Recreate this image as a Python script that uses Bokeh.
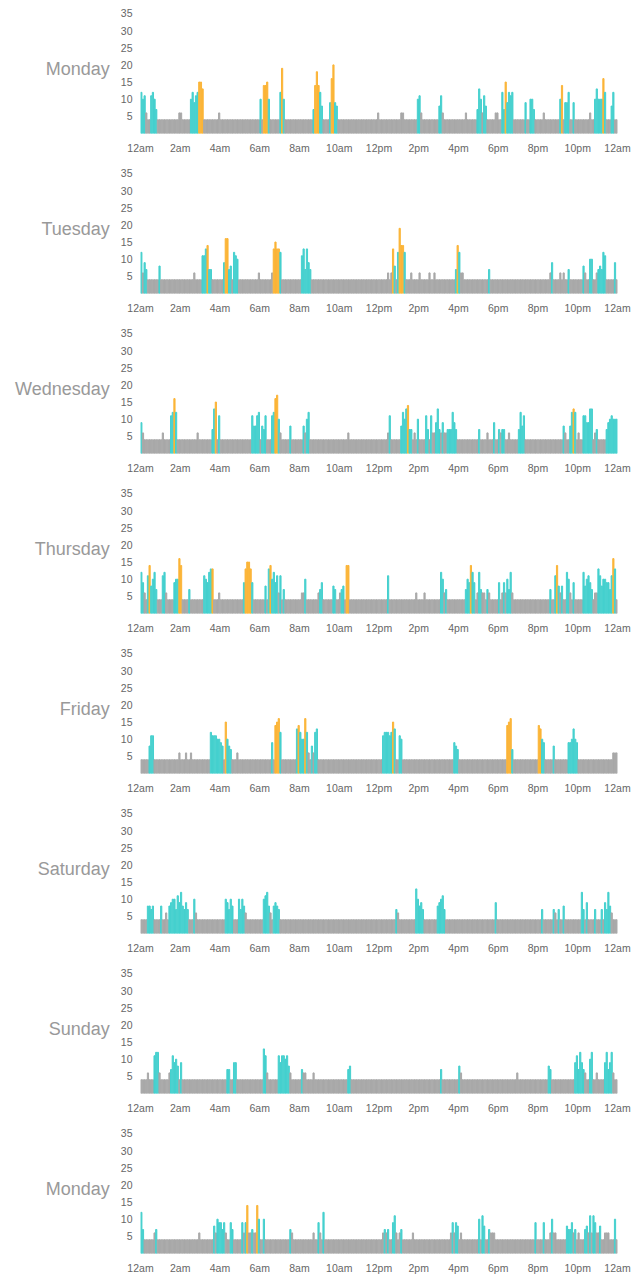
from bokeh.plotting import figure
from bokeh.layouts import column
from bokeh.models import FixedTicker, Range1d, ColumnDataSource
from bokeh.embed import file_html
from bokeh.resources import INLINE

# ---------------- data ----------------
days = ["Monday", "Tuesday", "Wednesday", "Thursday", "Friday", "Saturday", "Sunday", "Monday"]
N_SLOTS = 288          # 5-minute slots per day
BASELINE = 4           # value of every slot not listed below

x_ticks = [0, 2, 4, 6, 8, 10, 12, 14, 16, 18, 20, 22, 24]
x_tick_labels = ["12am", "2am", "4am", "6am", "8am", "10am", "12pm",
                 "2pm", "4pm", "6pm", "8pm", "10pm", "12am"]
y_ticks = [5, 10, 15, 20, 25, 30, 35]

mon1_values = {0: 12, 1: 10, 2: 11, 3: 6, 6: 11, 7: 12, 8: 10, 9: 7, 23: 6, 24: 6, 30: 10, 31: 12,
               32: 9, 33: 11, 34: 12, 35: 15, 36: 15, 37: 13, 47: 6, 72: 10, 74: 14, 75: 14, 76: 15,
               77: 10, 84: 12, 85: 19, 86: 10, 104: 7, 105: 14, 106: 18, 107: 14, 108: 12, 109: 8,
               114: 9, 115: 16, 116: 20, 117: 9, 118: 8, 143: 6, 157: 6, 158: 6, 167: 10, 168: 11,
               169: 6, 180: 8, 181: 11, 182: 6, 196: 6, 203: 7, 204: 13, 205: 10, 206: 6, 207: 11,
               208: 8, 214: 6, 215: 6, 218: 12, 219: 7, 220: 15, 221: 9, 222: 12, 223: 11, 224: 12,
               232: 9, 235: 10, 236: 10, 237: 7, 243: 6, 253: 10, 254: 14, 256: 9, 257: 9, 258: 12,
               261: 9, 271: 6, 274: 10, 275: 13, 276: 10, 277: 10, 278: 10, 279: 16, 280: 12,
               284: 8, 285: 12}
mon1_orange = [35, 36, 37, 74, 75, 76, 85, 105, 106, 107, 115, 116, 220, 254, 279]

tue_values = {0: 12, 1: 6, 2: 9, 3: 7, 11: 8, 32: 6, 37: 11, 38: 11, 39: 13, 40: 14, 41: 7, 42: 7,
              50: 9, 51: 16, 52: 16, 53: 7, 54: 8, 56: 12, 57: 11, 58: 10, 71: 6, 79: 6, 80: 13,
              81: 15, 82: 13, 83: 13, 84: 12, 97: 11, 98: 13, 99: 7, 100: 13, 101: 9, 102: 7,
              149: 6, 151: 6, 152: 13, 153: 8, 155: 12, 156: 19, 157: 14, 158: 14, 159: 12, 163: 6,
              168: 6, 174: 6, 177: 6, 190: 7, 191: 14, 192: 12, 193: 6, 194: 6, 210: 7, 247: 6,
              248: 9, 253: 6, 255: 6, 258: 7, 267: 8, 268: 6, 271: 10, 272: 10, 275: 6, 276: 7,
              277: 8, 278: 7, 279: 12, 280: 11, 286: 9}
tue_orange = [40, 51, 52, 80, 81, 82, 83, 152, 156, 157, 158, 191]

wed_values = {0: 9, 1: 6, 13: 6, 18: 11, 19: 12, 20: 16, 21: 12, 34: 6, 43: 7, 44: 13, 45: 15,
              47: 11, 67: 11, 68: 8, 69: 8, 70: 11, 71: 12, 73: 8, 74: 7, 75: 11, 79: 11, 80: 12,
              81: 16, 82: 17, 83: 10, 84: 6, 90: 8, 98: 8, 99: 6, 100: 10, 101: 12, 125: 6, 149: 6,
              150: 11, 157: 8, 158: 12, 159: 10, 160: 13, 161: 14, 162: 7, 163: 7, 165: 6, 167: 10,
              172: 11, 173: 7, 175: 11, 176: 6, 177: 6, 178: 9, 179: 13, 180: 7, 181: 6, 182: 9,
              183: 6, 184: 6, 185: 7, 186: 7, 187: 7, 188: 12, 189: 9, 190: 7, 204: 7, 209: 6,
              213: 9, 216: 7, 217: 6, 218: 7, 219: 7, 222: 6, 228: 7, 229: 12, 230: 8, 231: 11,
              255: 8, 256: 6, 259: 8, 260: 12, 261: 13, 262: 12, 264: 6, 267: 11, 268: 11, 269: 9,
              270: 9, 271: 13, 272: 13, 274: 6, 275: 7, 281: 7, 282: 9, 283: 10, 284: 11, 285: 10,
              286: 10, 287: 10}
wed_orange = [20, 45, 81, 82, 161, 261]

thu_values = {0: 12, 1: 9, 2: 6, 4: 11, 5: 14, 6: 8, 7: 10, 8: 12, 9: 7, 13: 11, 14: 12, 15: 6,
              20: 9, 21: 10, 22: 10, 23: 16, 24: 14, 29: 7, 38: 11, 39: 10, 40: 9, 41: 12, 42: 13,
              43: 13, 47: 6, 62: 9, 63: 13, 64: 15, 65: 15, 66: 13, 67: 9, 75: 8, 77: 13, 78: 14,
              79: 10, 80: 12, 81: 9, 82: 11, 83: 6, 84: 11, 86: 7, 97: 6, 98: 6, 99: 10, 107: 6,
              108: 7, 109: 9, 116: 8, 117: 7, 120: 6, 121: 7, 122: 8, 124: 14, 125: 14, 149: 11,
              166: 6, 171: 6, 181: 12, 182: 10, 183: 6, 184: 7, 196: 7, 197: 10, 198: 9, 199: 14,
              200: 12, 201: 9, 203: 6, 204: 12, 205: 7, 206: 6, 207: 6, 209: 7, 210: 6, 216: 9,
              218: 6, 219: 9, 220: 6, 221: 10, 222: 7, 223: 12, 224: 6, 247: 7, 250: 11, 251: 14,
              252: 8, 253: 6, 254: 8, 257: 12, 258: 10, 259: 6, 261: 9, 267: 12, 268: 8, 269: 10,
              270: 11, 271: 9, 272: 7, 274: 6, 275: 6, 276: 13, 277: 11, 278: 8, 279: 10, 280: 10,
              281: 9, 282: 9, 283: 7, 284: 11, 285: 16, 286: 13}
thu_orange = [5, 23, 24, 43, 63, 64, 65, 66, 78, 124, 125, 199, 251, 285]

fri_values = {5: 8, 6: 11, 7: 11, 23: 6, 27: 6, 30: 6, 42: 12, 43: 11, 44: 11, 45: 11, 46: 10,
              47: 10, 48: 9, 49: 8, 51: 15, 52: 10, 53: 8, 54: 7, 58: 6, 79: 9, 81: 14, 82: 15,
              83: 16, 84: 12, 94: 13, 95: 14, 96: 12, 97: 10, 98: 10, 99: 16, 100: 12, 101: 6,
              103: 8, 104: 6, 105: 12, 106: 13, 146: 11, 147: 12, 148: 12, 149: 12, 150: 11,
              151: 12, 152: 15, 153: 13, 156: 11, 157: 10, 189: 9, 190: 8, 191: 7, 221: 14,
              222: 15, 223: 16, 224: 7, 240: 14, 241: 13, 242: 10, 243: 9, 249: 8, 258: 9, 259: 9,
              260: 10, 261: 13, 262: 10, 263: 9, 285: 6, 286: 6, 287: 6}
fri_orange = [51, 81, 82, 83, 95, 99, 152, 221, 222, 223, 240, 241]

sat_values = {4: 8, 5: 8, 6: 7, 7: 8, 12: 8, 15: 6, 17: 8, 18: 9, 19: 10, 20: 10, 21: 7, 22: 11,
              23: 9, 24: 12, 25: 8, 26: 7, 27: 9, 28: 7, 32: 10, 33: 6, 51: 10, 52: 9, 53: 7,
              54: 10, 55: 8, 59: 10, 60: 7, 61: 10, 62: 8, 63: 6, 74: 10, 75: 11, 76: 12, 77: 8,
              78: 6, 80: 8, 81: 9, 82: 8, 83: 7, 154: 7, 155: 6, 166: 13, 167: 10, 168: 8, 169: 9,
              170: 7, 179: 8, 180: 9, 181: 10, 182: 11, 183: 7, 214: 9, 242: 7, 249: 7, 250: 6,
              252: 7, 255: 8, 266: 12, 267: 7, 269: 9, 274: 7, 278: 7, 280: 9, 281: 7, 282: 12,
              283: 8, 284: 6}
sat_orange = []

sun_values = {4: 6, 8: 11, 9: 12, 10: 12, 11: 6, 17: 6, 18: 7, 19: 11, 20: 9, 21: 10, 22: 8,
              24: 9, 52: 7, 53: 7, 56: 9, 57: 9, 74: 13, 75: 11, 76: 6, 83: 11, 84: 9, 85: 11,
              86: 11, 87: 10, 88: 11, 89: 8, 90: 6, 97: 7, 98: 6, 99: 6, 104: 6, 125: 7, 126: 8,
              181: 7, 192: 8, 193: 6, 227: 6, 246: 8, 247: 7, 262: 9, 263: 11, 264: 7, 265: 12,
              266: 9, 267: 7, 268: 6, 271: 10, 272: 12, 275: 6, 280: 9, 281: 12, 282: 7, 283: 9,
              284: 12, 285: 6}
sun_orange = []

mon2_values = {0: 12, 1: 7, 8: 6, 9: 7, 35: 6, 44: 8, 45: 6, 46: 10, 47: 9, 48: 9, 49: 7, 50: 9,
               51: 6, 54: 9, 55: 7, 61: 9, 62: 6, 63: 9, 64: 14, 65: 6, 66: 6, 67: 7, 68: 6, 69: 6,
               70: 14, 71: 10, 74: 10, 90: 7, 91: 6, 104: 6, 107: 9, 108: 6, 110: 12, 146: 6,
               147: 7, 148: 6, 149: 7, 152: 9, 153: 11, 154: 6, 156: 6, 157: 7, 164: 6, 187: 6,
               188: 9, 189: 6, 190: 9, 191: 8, 193: 6, 204: 10, 206: 11, 207: 8, 210: 7, 211: 6,
               212: 6, 213: 6, 238: 9, 243: 9, 247: 6, 248: 10, 249: 6, 250: 6, 257: 8, 258: 7,
               259: 7, 260: 9, 261: 6, 262: 7, 264: 6, 268: 7, 269: 8, 270: 6, 271: 11, 272: 6,
               273: 11, 274: 9, 275: 6, 276: 6, 277: 8, 280: 6, 281: 6, 282: 6, 286: 10}
mon2_orange = [64, 70]

panels = [(mon1_values, mon1_orange), (tue_values, tue_orange), (wed_values, wed_orange),
          (thu_values, thu_orange), (fri_values, fri_orange), (sat_values, sat_orange),
          (sun_values, sun_orange), (mon2_values, mon2_orange)]

# ---------------- styling ----------------
GREY = "#a8a8a8"
TEAL = "#45d0ce"
ORANGE = "#fbb437"
FONT = "Liberation Sans"
PX_PER_UNIT = 3.43
H = 160
TOP_B, BOTTOM_B = 3, 27

figs = []
for k, (day, (vals, orange)) in enumerate(zip(days, panels)):
    xs, tops, colors = [], [], []
    for s in range(N_SLOTS):
        v = vals.get(s, BASELINE)
        xs.append((s + 0.5) / 12.0)
        tops.append(v)
        if s in orange:
            colors.append(ORANGE)
        elif v >= 7:
            colors.append(TEAL)
        else:
            colors.append(GREY)
    src = ColumnDataSource(dict(x=xs, top=tops, color=colors))

    frame_h = H - TOP_B - BOTTOM_B
    y_end = frame_h / PX_PER_UNIT

    p = figure(width=634, height=H, output_backend="svg", toolbar_location=None,
               x_range=Range1d(0, 24), y_range=Range1d(0, y_end),
               min_border_left=140, min_border_right=17,
               min_border_top=TOP_B, min_border_bottom=BOTTOM_B,
               tools="")
    p.vbar(x="x", top="top", bottom=0, width=0.72 / 12, color="color", source=src)

    p.outline_line_color = None
    p.xgrid.grid_line_color = None
    p.ygrid.grid_line_color = None
    p.background_fill_color = "white"
    p.border_fill_color = "white"

    p.xaxis.ticker = FixedTicker(ticks=x_ticks)
    p.xaxis.major_label_overrides = {t: lab for t, lab in zip(x_ticks, x_tick_labels)}
    p.yaxis.ticker = FixedTicker(ticks=y_ticks)
    for ax in (p.xaxis, p.yaxis):
        ax.axis_line_color = None
        ax.major_tick_line_color = None
        ax.minor_tick_line_color = None
        ax.major_tick_out = 0
        ax.major_tick_in = 0
        ax.major_label_text_font = FONT
        ax.major_label_text_font_size = "10.5px"
        ax.major_label_text_color = "#666666"
    p.xaxis.major_label_standoff = 8
    p.yaxis.major_label_standoff = 8

    # day name as a horizontal y-axis label
    yax = p.yaxis[0]
    yax.axis_label = day
    yax.axis_label_orientation = "horizontal"
    yax.axis_label_standoff = 8
    yax.axis_label_text_font = FONT
    yax.axis_label_text_font_size = "18px"
    yax.axis_label_text_font_style = "normal"
    yax.axis_label_text_color = "#999999"
    figs.append(p)

layout = column(*figs, spacing=0)
open("out.html", "w").write(file_html(layout, INLINE))
